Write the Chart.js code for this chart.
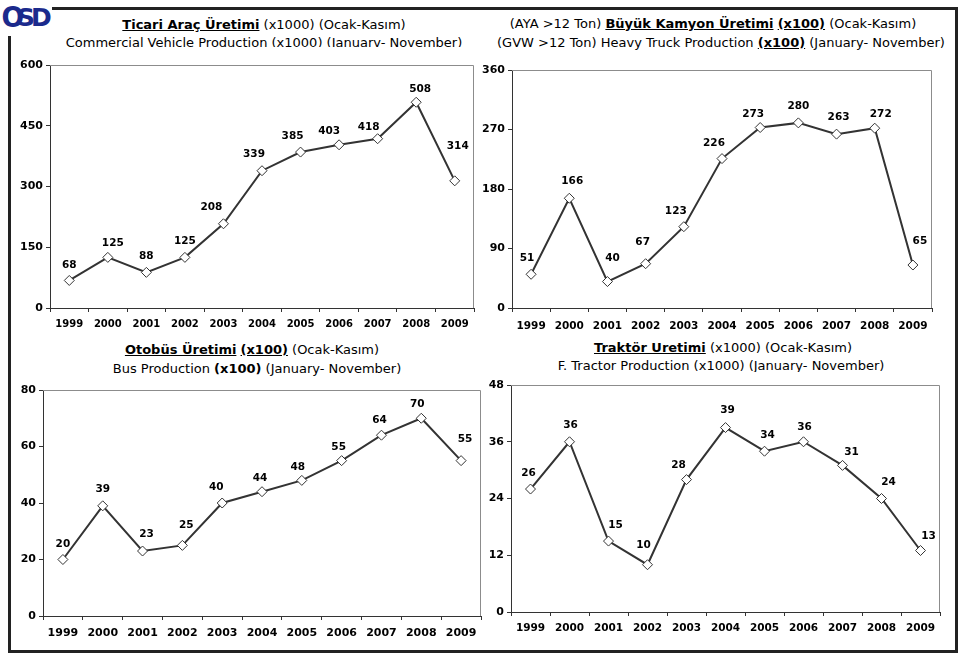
<!DOCTYPE html>
<html>
<head>
<meta charset="utf-8">
<script src="https://cdn.jsdelivr.net/npm/chart.js@4.4.1/dist/chart.umd.min.js"></script>
<style>
  body { margin: 0; width: 959px; height: 656px; overflow: hidden; position: relative; background: #fff; font-family: "DejaVu Sans", sans-serif; color: #000; }
  .frame { position: absolute; left: 8px; top: 7px; width: 950px; height: 646px; border: 3px solid #222; box-sizing: border-box; }
  .logo { position: absolute; left: 0; top: 0; width: 52px; height: 36px; background: #fff; }
  .logo span { position: absolute; top: 1px; font: bold 28px "DejaVu Sans", sans-serif; color: #1b2a8c; }
  .ttl { position: absolute; width: 600px; text-align: center; white-space: nowrap; font-size: 13px; line-height: 18px; overflow: hidden; }
  .ttl b.u { text-decoration: underline; }
  canvas { position: absolute; }
</style>
</head>
<body>
<div class="frame"></div>
<div class="logo">
  <span style="left:1px;transform:scaleX(0.95)">O</span>
  <span style="left:17px;font-size:25px;top:3px">S</span>
  <span style="left:31px;font-size:25px;top:3px">D</span>
</div>

<div class="ttl" style="left:-36px;top:16px;height:18px"><b class="u">Ticari Araç Üretimi</b> (x1000) (Ocak-Kasım)</div>
<div class="ttl" style="left:-36px;top:34px;height:13px">Commercial Vehicle Production (x1000) (January- November)</div>

<div class="ttl" style="left:413px;top:15px;height:18px">(AYA &gt;12 Ton) <b class="u">Büyük Kamyon Üretimi</b> <b class="u">(x100)</b> (Ocak-Kasım)</div>
<div class="ttl" style="left:421px;top:34px;height:18px">(GVW &gt;12 Ton) Heavy Truck Production <b class="u">(x100)</b> (January- November)</div>

<div class="ttl" style="left:-48px;top:341px;height:18px"><b class="u">Otobüs Üretimi</b> <b class="u">(x100)</b> (Ocak-Kasım)</div>
<div class="ttl" style="left:-43px;top:360px;height:18px">Bus Production <b>(x100)</b> (January- November)</div>

<div class="ttl" style="left:423px;top:339px;height:18px"><b class="u">Traktör Uretimi</b> (x1000) (Ocak-Kasım)</div>
<div class="ttl" style="left:421px;top:357px;height:15px">F. Tractor Production (x1000) (January- November)</div>

<canvas id="c1" width="480" height="280" style="left:0;top:55px"></canvas>
<canvas id="c2" width="470" height="275" style="left:480px;top:60px"></canvas>
<canvas id="c3" width="490" height="270" style="left:0;top:380px"></canvas>
<canvas id="c4" width="470" height="270" style="left:480px;top:375px"></canvas>

<script>
const years = ["1999", "2000", "2001", "2002", "2003", "2004", "2005", "2006", "2007", "2008", "2009"];

// Ticari Araç (x1000)
const commercial = [68, 125, 88, 125, 208, 339, 385, 403, 418, 508, 314];
const commercialTicks = [0, 150, 300, 450, 600];
// Büyük Kamyon (x100)
const heavyTruck = [51, 166, 40, 67, 123, 226, 273, 280, 263, 272, 65];
const heavyTruckTicks = [0, 90, 180, 270, 360];
// Otobüs (x100)
const bus = [20, 39, 23, 25, 40, 44, 48, 55, 64, 70, 55];
const busTicks = [0, 20, 40, 60, 80];
// Traktör (x1000)
const tractor = [26, 36, 15, 10, 28, 39, 34, 36, 31, 24, 13];
const tractorTicks = [0, 12, 24, 36, 48];

// plot frame: axes are dark, top and right edge grey
const frameLines = {
  id: "frameLines",
  beforeDatasetsDraw(chart) {
    const a = chart.chartArea, ctx = chart.ctx;
    ctx.save();
    ctx.strokeStyle = "#8c8c8c";
    ctx.lineWidth = 1;
    ctx.beginPath();
    ctx.moveTo(a.left, a.top + 0.5);
    ctx.lineTo(a.right - 0.5, a.top + 0.5);
    ctx.lineTo(a.right - 0.5, a.bottom);
    ctx.stroke();
    ctx.restore();
  }
};

// value labels above the points, nudged per point like the original slide
const valueLabels = {
  id: "valueLabels",
  afterDatasetsDraw(chart, args, opts) {
    const ctx = chart.ctx;
    const ds = chart.data.datasets[0];
    const pts = chart.getDatasetMeta(0).data;
    ctx.save();
    ctx.font = "bold 10.5px 'DejaVu Sans', sans-serif";
    ctx.fillStyle = "#000";
    ctx.textAlign = "center";
    ctx.textBaseline = "middle";
    pts.forEach((p, i) => {
      const n = opts.nudge[i] || [0, -15];
      ctx.fillText(String(ds.data[i]), p.x + n[0], p.y + n[1]);
    });
    ctx.restore();
  }
};

function makeChart(id, values, ticks, yAxisW, xAxisH, pad, xFont, yFont, xPad, nudge) {
  const maxV = ticks[ticks.length - 1];
  return new Chart(document.getElementById(id), {
    type: "line",
    data: {
      labels: years,
      datasets: [{
        data: values,
        borderColor: "#333",
        borderWidth: 2,
        pointStyle: "rectRot",
        pointRadius: 5,
        pointBackgroundColor: "#fff",
        pointBorderColor: "#333",
        pointBorderWidth: 1,
        tension: 0
      }]
    },
    options: {
      responsive: false,
      animation: false,
      events: [],
      layout: { padding: pad },
      plugins: {
        legend: { display: false },
        tooltip: { enabled: false },
        valueLabels: { nudge: nudge }
      },
      scales: {
        x: {
          offset: true,
          grid: { offset: true, drawOnChartArea: false, drawTicks: true, tickLength: 4, color: "#333" },
          border: { display: true, color: "#333", width: 1 },
          ticks: { color: "#000", font: { family: "DejaVu Sans", size: xFont, weight: "bold" }, padding: xPad, maxRotation: 0, autoSkip: false },
          afterFit(s) { s.height = xAxisH; }
        },
        y: {
          min: 0,
          max: maxV,
          afterBuildTicks(s) { s.ticks = ticks.map(v => ({ value: v })); },
          grid: { drawOnChartArea: false, drawTicks: true, tickLength: 4, color: "#333" },
          border: { display: true, color: "#333", width: 1 },
          ticks: { color: "#000", font: { family: "DejaVu Sans", size: yFont, weight: "bold" }, padding: 3 },
          afterFit(s) { s.width = yAxisW; }
        }
      }
    },
    plugins: [frameLines, valueLabels]
  });
}

makeChart("c1", commercial, commercialTicks, 50, 27, { top: 10, right: 6 }, 10, 11, 6,
  [[0, -15], [5, -14], [0, -16], [0, -16], [-12, -16], [-8, -16], [-8, -16], [-10, -14], [-9, -11], [4, -13], [3, -35]]);

makeChart("c2", heavyTruck, heavyTruckTicks, 32, 27, { top: 10, right: 18 }, 10.5, 11, 8,
  [[-4, -16], [3, -17], [5, -23], [-3, -21], [-8, -15], [-8, -15], [-7, -13], [0, -17], [2, -17], [6, -14], [7, -24]]);

makeChart("c3", bus, busTicks, 43, 34, { top: 10, right: 9 }, 11, 11, 7,
  [[0, -15], [0, -17], [4, -17], [4, -20], [-6, -16], [-2, -13], [-4, -13], [-3, -13], [-2, -15], [-4, -14], [4, -21]]);

makeChart("c4", tractor, tractorTicks, 31, 33, { top: 10, right: 10 }, 10.5, 11, 6,
  [[-2, -16], [1, -16], [7, -16], [-4, -19], [-8, -14], [2, -17], [3, -16], [1, -14], [9, -13], [7, -16], [8, -14]]);
</script>
</body>
</html>
